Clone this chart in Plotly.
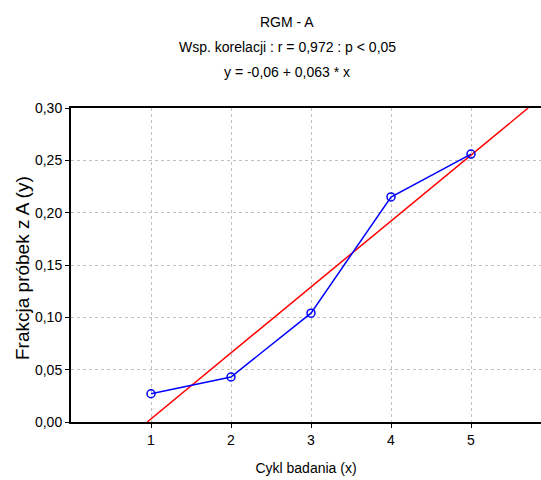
import plotly.graph_objects as go

cycles = [1, 2, 3, 4, 5]
fractions = [0.027, 0.043, 0.104, 0.215, 0.256]
intercept = -0.06
slope = 0.063
title_lines = ["RGM - A", "Wsp. korelacji : r = 0,972 : p < 0,05", "y = -0,06 + 0,063 * x"]
x_ticks = [1, 2, 3, 4, 5]
y_ticks = [0.0, 0.05, 0.10, 0.15, 0.20, 0.25, 0.30]

FONT = "Liberation Sans Narrow, Arial Narrow, Liberation Sans, Arial, sans-serif"

# regression line clipped to y in [0, 0.30]
x_start = (0.0 - intercept) / slope
x_end = (0.30 - intercept) / slope
reg_x = [x_start, x_end]
reg_y = [intercept + slope * v for v in reg_x]

fig = go.Figure()
fig.add_trace(go.Scatter(x=reg_x, y=reg_y, mode="lines",
                         line=dict(color="#ff0000", width=1.5), showlegend=False))
fig.add_trace(go.Scatter(x=cycles, y=fractions, mode="lines+markers",
                         line=dict(color="#0000ff", width=1.5),
                         marker=dict(symbol="circle-open", size=8, color="#0000ff",
                                     line=dict(width=1.5, color="#0000ff")),
                         showlegend=False))

L, R, T, B = 71, 0, 108, 58
W, H = 541, 480
pw, ph = W - L - R, H - T - B

annotations = []
for i, t in enumerate(title_lines):
    px, py = 287, 22 + 25 * i
    annotations.append(dict(text=t, x=(px - L) / pw, y=(H - B - py) / ph,
                            xref="paper", yref="paper", xanchor="center", yanchor="middle",
                            showarrow=False, font=dict(family=FONT, size=14, color="black")))
# y-axis title as rotated annotation
annotations.append(dict(text="Frakcja próbek z A (y)", x=(22 - L) / pw, y=(H - B - 268) / ph,
                        xref="paper", yref="paper", xanchor="center", yanchor="middle",
                        textangle=-90, showarrow=False,
                        font=dict(family="Liberation Sans, Arial, sans-serif", size=19,
                                  color="black")))

fig.update_layout(
    width=W, height=H,
    margin=dict(l=L, r=R, t=T, b=B),
    paper_bgcolor="white", plot_bgcolor="white",
    separators=", ",
    font=dict(family=FONT, size=14, color="black"),
    annotations=annotations,
    xaxis=dict(range=[0, 5.875], tickvals=x_ticks, ticks="outside", ticklen=4,
               tickcolor="black", showline=True, linecolor="black", linewidth=2,
               mirror=True, showgrid=True, gridcolor="#c0c0c0", griddash="dot",
               gridwidth=1, zeroline=False,
               title=dict(text="Cykl badania (x)", font=dict(family=FONT, size=14),
                          standoff=16),
               tickfont=dict(family=FONT, size=14)),
    yaxis=dict(range=[0, 0.30], tickvals=y_ticks, tickformat=".2f", ticks="outside",
               ticklen=4, tickcolor="black", showline=True, linecolor="black",
               linewidth=2, mirror=False, showgrid=True, gridcolor="#c0c0c0",
               griddash="dot", gridwidth=1, zeroline=False,
               tickfont=dict(family=FONT, size=14)),
)

fig.write_html("out.html")
